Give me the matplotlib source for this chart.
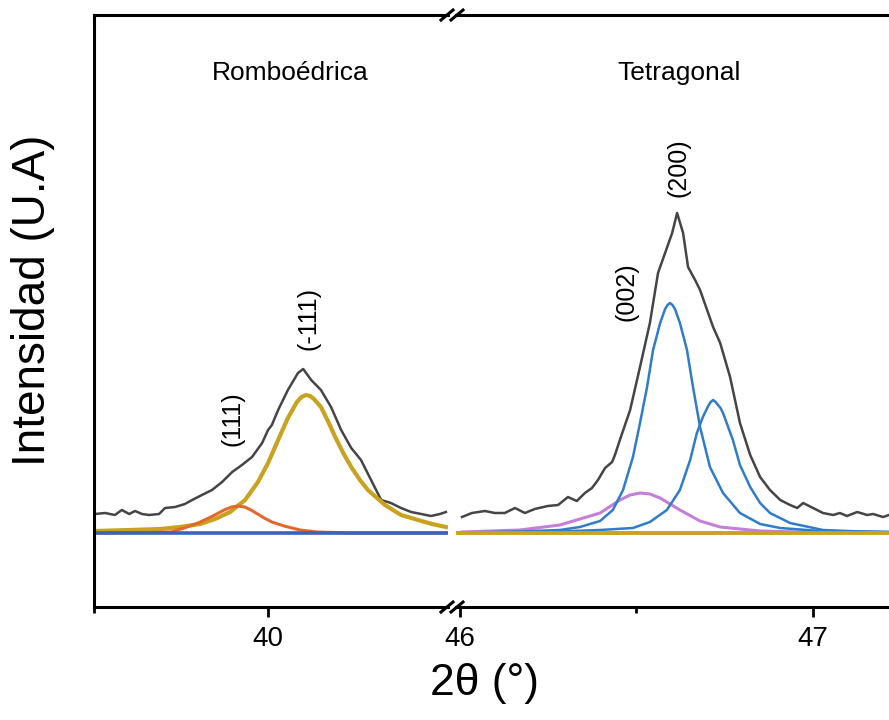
import matplotlib
matplotlib.use("Agg")
import matplotlib.pyplot as plt
from matplotlib.lines import Line2D

plt.rcParams['font.family'] = ['Liberation Sans', 'DejaVu Sans']

# ---- left panel (rhombohedral), 2theta in degrees, intensity in arb. units ----
left_x = [39.503, 39.532, 39.560, 39.580, 39.601, 39.618, 39.638, 39.658, 39.687, 39.704,
          39.733, 39.761, 39.782, 39.810, 39.839, 39.868, 39.897, 39.925, 39.954, 39.983,
          40.000, 40.011, 40.029, 40.057, 40.086, 40.101, 40.124, 40.152, 40.181, 40.210,
          40.239, 40.267, 40.296, 40.325, 40.353, 40.382, 40.411, 40.440, 40.468, 40.494,
          40.511]
left_obs = [19, 20, 18, 23, 19, 22, 19, 18, 19, 25,
            26, 29, 33, 38, 43, 51, 61, 68, 76, 90,
            103, 108, 123, 143, 160, 164, 153, 143, 126, 103,
            85, 73, 53, 33, 30, 25, 21, 19, 17, 19,
            21]

p111_x = [39.503, 39.658, 39.721, 39.759, 39.799, 39.836, 39.874, 39.895, 39.914, 39.933,
          39.951, 39.989, 40.011, 40.046, 40.092, 40.141, 40.233, 40.511]
p111_y = [0, 0.5, 1, 5, 10, 16, 23, 26, 27, 26,
          23, 15, 11, 7, 3, 1, 0, 0]

pm111_x = [39.503, 39.603, 39.690, 39.747, 39.805, 39.848, 39.891, 39.934, 39.971, 40.000,
           40.029, 40.057, 40.083, 40.096, 40.109, 40.121, 40.132, 40.152, 40.172, 40.193,
           40.216, 40.239, 40.264, 40.287, 40.313, 40.336, 40.382, 40.431, 40.471, 40.511]
pm111_y = [2, 3, 4, 6, 9, 14, 21, 33, 51, 70,
           93, 115, 131, 136, 138, 137, 134, 126, 112, 96,
           80, 66, 53, 43, 35, 28, 18, 13, 9, 6]

blue_left_x = [39.5, 40.517]
blue_left_y = [0, 0]

# ---- right panel (tetragonal) ----
right_x = [46.006, 46.034, 46.071, 46.099, 46.127, 46.156, 46.184, 46.212, 46.249, 46.278,
           46.306, 46.331, 46.354, 46.374, 46.391, 46.411, 46.431, 46.439, 46.453, 46.482,
           46.510, 46.538, 46.561, 46.581, 46.601, 46.615, 46.632, 46.646, 46.666, 46.680,
           46.700, 46.717, 46.737, 46.765, 46.793, 46.822, 46.850, 46.878, 46.907, 46.935,
           46.955, 46.972, 47.000, 47.028, 47.057, 47.076, 47.096, 47.125, 47.153, 47.170,
           47.198, 47.215]
right_obs = [16, 20, 22, 20, 20, 25, 20, 24, 27, 28,
             36, 32, 40, 45, 53, 65, 71, 78, 93, 123,
             166, 210, 260, 280, 300, 320, 300, 266, 253, 243,
             223, 206, 190, 156, 110, 78, 56, 43, 33, 28,
             25, 30, 25, 20, 18, 20, 17, 21, 18, 19,
             16, 18]

p200_x = [46.006, 46.170, 46.283, 46.340, 46.397, 46.433, 46.462, 46.490, 46.510, 46.530,
          46.547, 46.567, 46.581, 46.588, 46.595, 46.602, 46.609, 46.623, 46.643, 46.660,
          46.680, 46.708, 46.745, 46.793, 46.850, 46.907, 47.020, 47.215]
p200_y = [0.5, 1.5, 3, 6, 12, 23, 43, 76, 110, 146,
          183, 210, 224, 228, 230, 228, 224, 210, 183, 146,
          106, 66, 40, 20, 9, 5, 2, 1]

p002b_x = [46.006, 46.283, 46.397, 46.490, 46.538, 46.586, 46.623, 46.652, 46.671, 46.688,
           46.703, 46.710, 46.717, 46.724, 46.731, 46.738, 46.745, 46.773, 46.793, 46.822,
           46.850, 46.878, 46.935, 47.028, 47.133, 47.215]
p002b_y = [0.3, 1.5, 3, 5, 11, 23, 43, 73, 100, 116,
           127, 131, 133, 131, 128, 125, 120, 93, 68, 46,
           30, 20, 10, 3, 1.5, 1]

p002_x = [46.006, 46.170, 46.283, 46.340, 46.397, 46.453, 46.482, 46.510, 46.538, 46.567,
          46.623, 46.680, 46.737, 46.850, 46.963, 47.215]
p002_y = [1, 3, 8, 14, 20, 33, 38, 40, 39, 35,
          23, 12, 6, 2, 1, 0.5]

yellow_right_x = [45.989, 47.215]
yellow_right_y = [0, 0]

c_obs = '#454545'
c_yel = '#c9a21f'
c_org = '#e2692c'
c_blu = '#2f7ccc'
c_pur = '#c57fd8'
c_base = '#3d62b6'

fig = plt.figure(figsize=(8.89, 7.2), dpi=100)
W, H = 889.0, 720.0
bot = (H - 607) / H
hgt = 592 / H
axL = fig.add_axes([94 / W, bot, (448 - 94) / W, hgt])
axR = fig.add_axes([456 / W, bot, (889 - 456) / W, hgt])

axL.plot(left_x, left_obs, color=c_obs, lw=1.8)
axL.plot(pm111_x, pm111_y, color=c_yel, lw=3.0)
axL.plot(p111_x, p111_y, color=c_org, lw=2.2)
axL.plot(blue_left_x, blue_left_y, color=c_base, lw=2.6)

axR.plot(right_x, right_obs, color=c_obs, lw=1.8)
axR.plot(p002_x, p002_y, color=c_pur, lw=2.2)
axR.plot(p200_x, p200_y, color=c_blu, lw=1.8)
axR.plot(p002b_x, p002b_y, color=c_blu, lw=1.8)
axR.plot(yellow_right_x, yellow_right_y, color=c_yel, lw=2.8)

axL.set_xlim(39.5, 40.517)
axR.set_xlim(45.989, 47.215)
for ax in (axL, axR):
    ax.set_ylim(-74, 518)
    ax.set_yticks([])
    ax.spines['right'].set_visible(False)
    for s in ('top', 'bottom', 'left'):
        ax.spines[s].set_linewidth(2.2)
    ax.tick_params(axis='x', which='major', length=7, width=2, pad=7, labelsize=20)
    ax.tick_params(axis='x', which='minor', length=4, width=2)
axR.spines['left'].set_visible(False)

axL.set_xticks([40])
axL.set_xticks([39.5], minor=True)
axR.set_xticks([46, 47])
axR.set_xticks([46.5], minor=True)

# break marks
for px in (447, 457):
    for py in (15, 607):
        fig.add_artist(Line2D([(px - 6) / W, (px + 6) / W],
                              [1 - (py + 5) / H, 1 - (py - 5) / H],
                              color='black', lw=2.2))

axL.text(40.063, 453, 'Romboédrica', ha='center', va='baseline', fontsize=19)
axR.text(46.620, 453, 'Tetragonal', ha='center', va='baseline', fontsize=19)
axL.text(39.899, 114, '(111)', rotation=90, ha='center', va='center', fontsize=18)
axL.text(40.115, 215, '(-111)', rotation=90, ha='center', va='center', fontsize=18)
axR.text(46.473, 241, '(002)', rotation=90, ha='center', va='center', fontsize=18)
axR.text(46.618, 365, '(200)', rotation=90, ha='center', va='center', fontsize=18)

fig.text(33 / W, 1 - 300 / H, 'Intensidad (U.A)', rotation=90, ha='center', va='center', fontsize=33)
fig.text(485 / W, 1 - 684 / H, '2θ (°)', ha='center', va='center', fontsize=32)

fig.savefig('out.png', dpi=100)
